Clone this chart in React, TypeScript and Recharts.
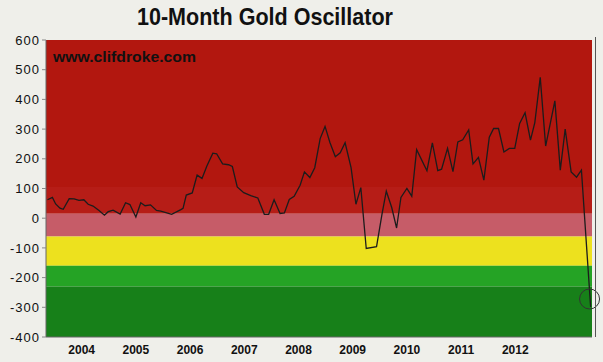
import React from "react";
import { LineChart, Line, XAxis, YAxis, ReferenceArea, ReferenceDot } from "recharts";

// Decimal-year dates of each reading (monthly-ish turning points)
const dates = [
  2003.87, 2003.96, 2004.02, 2004.1, 2004.16, 2004.27, 2004.36, 2004.45, 2004.54, 2004.62,
  2004.71, 2004.82, 2004.92, 2004.99, 2005.08, 2005.21, 2005.31, 2005.39, 2005.5, 2005.59,
  2005.67, 2005.77, 2005.88, 2005.96, 2006.07, 2006.16, 2006.33, 2006.37, 2006.43, 2006.54,
  2006.63, 2006.72, 2006.81, 2006.92, 2006.99, 2007.1, 2007.21, 2007.28, 2007.37, 2007.49,
  2007.62, 2007.75, 2007.87, 2007.95, 2008.05, 2008.16, 2008.24, 2008.33, 2008.42, 2008.53,
  2008.61, 2008.71, 2008.8, 2008.9, 2008.99, 2009.08, 2009.18, 2009.27, 2009.36, 2009.47,
  2009.56, 2009.65, 2009.75, 2009.94, 2010.04, 2010.12, 2010.22, 2010.31, 2010.39, 2010.5,
  2010.59, 2010.68, 2010.87, 2010.97, 2011.07, 2011.14, 2011.25, 2011.35, 2011.44, 2011.53,
  2011.64, 2011.72, 2011.82, 2011.92, 2012.02, 2012.1, 2012.19, 2012.29, 2012.39, 2012.49,
  2012.58, 2012.68, 2012.78, 2012.86, 2012.96, 2013.06, 2013.23, 2013.33, 2013.42, 2013.53,
  2013.63, 2013.72, 2013.89,
];

const oscillator = [
  62, 70, 48, 34, 30, 66, 65, 60, 62, 47,
  41, 26, 10, 22, 27, 14, 52, 46, 4, 52,
  42, 45, 26, 24, 18, 13, 29, 33, 78, 85,
  145, 134, 176, 219, 217, 183, 180, 174, 105, 86,
  76, 68, 13, 13, 62, 16, 18, 63, 74, 111,
  156, 137, 170, 268, 309, 255, 207, 220, 254, 170,
  47, 103, -102, -96, 13, 91, 36, -33, 70, 100,
  74, 231, 160, 254, 160, 165, 235, 157, 257, 264,
  297, 183, 205, 128, 273, 302, 302, 223, 235, 235,
  319, 355, 263, 322, 474, 243, 395, 162, 300, 156,
  138, 162, -299,
];

const yearLabels = ["2004", "2005", "2006", "2007", "2008", "2009", "2010", "2011", "2012"];
const yTicks = [-400, -300, -200, -100, 0, 100, 200, 300, 400, 500, 600];

// zone boundaries (oscillator values)
const zoneEdges = [600, 105, 15, -62, -160, -230, -400];
const zoneColors = ["#b2170f", "#b61d17", "#c65c68", "#ede11e", "#25a325", "#178019"];

const data = dates.map((d, i) => ({ t: d, v: oscillator[i] }));
const xTicks = yearLabels.map((y) => Number(y) + 0.5);

export default function App() {
  return (
    <div
      style={{
        position: "absolute",
        left: 0,
        top: 0,
        width: 603,
        height: 362,
        background: "#efefea",
        fontFamily: "'Liberation Sans', Arial, sans-serif",
      }}
    >
      <LineChart
        width={603}
        height={362}
        data={data}
        margin={{ top: 40, right: 11, bottom: 0, left: 6 }}
      >
        {zoneColors.map((c, i) => (
          <ReferenceArea
            key={i}
            y1={zoneEdges[i + 1]}
            y2={zoneEdges[i]}
            fill={c}
            fillOpacity={1}
            stroke="none"
            ifOverflow="hidden"
          />
        ))}
        <XAxis
          dataKey="t"
          type="number"
          domain={[2003.842, 2013.915]}
          ticks={xTicks}
          tickFormatter={(v: number) => String(Math.floor(v))}
          tick={{ fontSize: 12, fontWeight: "bold", fill: "#111" }}
          tickLine={false}
          axisLine={{ stroke: "#666" }}
          height={25}
          interval={0}
          allowDataOverflow
        />
        <YAxis
          type="number"
          domain={[-400, 600]}
          ticks={yTicks}
          width={40}
          tick={{ fontSize: 13, fill: "#111", letterSpacing: 1 }}
          tickLine={{ stroke: "#888" }}
          tickSize={4}
          axisLine={{ stroke: "#666" }}
          interval={0}
          allowDataOverflow
        />
        <Line
          type="linear"
          dataKey="v"
          stroke="#1c1c1c"
          strokeWidth={1.3}
          dot={false}
          isAnimationActive={false}
        />
        <ReferenceDot
          x={2013.87}
          y={-272}
          r={10}
          fill="none"
          stroke="#333"
          strokeWidth={1}
          ifOverflow="visible"
        />
      </LineChart>
      <svg
        width={603}
        height={362}
        style={{ position: "absolute", left: 0, top: 0, pointerEvents: "none" }}
      >
        <text
          x={265}
          y={25}
          textAnchor="middle"
          fontSize={24}
          fontWeight="bold"
          fill="#111"
          textLength={256}
          lengthAdjust="spacingAndGlyphs"
          fontFamily="'Liberation Sans', Arial, sans-serif"
        >
          10-Month Gold Oscillator
        </text>
        <text
          x={53}
          y={62}
          fontSize={15}
          fontWeight="bold"
          fill="#111"
          textLength={143}
          lengthAdjust="spacingAndGlyphs"
          fontFamily="'Liberation Sans', Arial, sans-serif"
        >
          www.clifdroke.com
        </text>
        <line x1={595.5} y1={37} x2={595.5} y2={337} stroke="#555" strokeWidth={1} />
      </svg>
    </div>
  );
}
